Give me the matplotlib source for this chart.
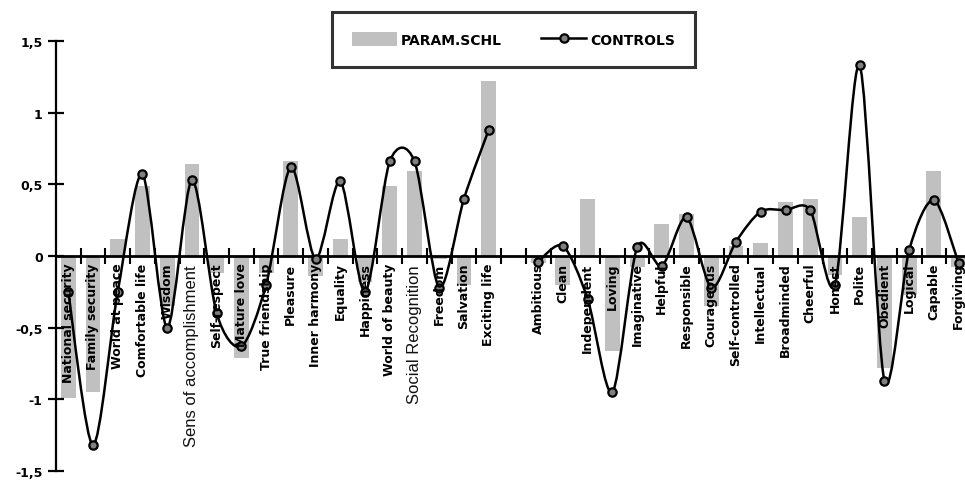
import numpy as np
import matplotlib
matplotlib.use("Agg")
import matplotlib.pyplot as plt
from matplotlib.path import Path
from matplotlib.patches import PathPatch, Patch
from matplotlib.lines import Line2D

# ---------------- data ----------------
categories = [
    "National security", "Family security", "World at peace", "Comfortable life",
    "Wisdom", "Sens of accomplishment", "Self-respect", "Mature love",
    "True friendship", "Pleasure", "Inner harmony", "Equality", "Happiness",
    "World of beauty", "Social Recognition", "Freedom", "Salvation",
    "Exciting life", "",
    "Ambitious", "Clean", "Independent", "Loving", "Imaginative", "Helpful",
    "Responsible", "Courageous", "Self-controlled", "Intellectual",
    "Broadminded", "Cheerful", "Honest", "Polite", "Obedient", "Logical",
    "Capable", "Forgiving",
]
readable_labels = ["Sens of accomplishment", "Social Recognition"]

param_schl = [
    -0.99, -0.95, 0.12, 0.49, -0.35, 0.64, -0.12, -0.71, -0.12, 0.66,
    -0.14, 0.12, -0.18, 0.49, 0.59, -0.02, -0.20, 1.22, np.nan,
    -0.05, -0.20, 0.40, -0.66, -0.08, 0.22, 0.29, -0.35, 0.07, 0.09,
    0.38, 0.40, -0.13, 0.27, -0.78, -0.27, 0.59, -0.08,
]
controls = [
    -0.25, -1.32, -0.25, 0.57, -0.50, 0.53, -0.40, -0.63, -0.20, 0.62,
    -0.02, 0.52, -0.25, 0.66, 0.66, -0.22, 0.40, 0.88, np.nan,
    -0.04, 0.07, -0.30, -0.95, 0.06, -0.07, 0.27, -0.22, 0.10, 0.31,
    0.32, 0.32, -0.20, 1.33, -0.87, 0.04, 0.39, -0.05,
]
yticks = [-1.5, -1, -0.5, 0, 0.5, 1, 1.5]
ytick_labels = ["-1,5", "-1", "-0,5", "0", "0,5", "1", "1,5"]
series_names = ["PARAM.SCHL", "CONTROLS"]

# ---------------- figure ----------------
W, H = 965, 481
fig = plt.figure(figsize=(W / 100, H / 100), dpi=100)
x0_px, x1_px = 55.9, 971.0
ytop_px, ybot_px = 42.0, 472.0
ax = fig.add_axes([x0_px / W, 1 - ybot_px / H, (x1_px - x0_px) / W, (ybot_px - ytop_px) / H])

n = len(categories)
x = np.arange(1, n + 1)
bar_color = "#c0c0c0"

ax.bar(x, param_schl, width=0.6, color=bar_color, edgecolor="none", zorder=1)

# smoothed line (Catmull-Rom / Excel-like), broken at gaps
def smooth_segments(xs, ys):
    segs, cur = [], []
    for xi, yi in zip(xs, ys):
        if np.isnan(yi):
            if cur:
                segs.append(cur)
            cur = []
        else:
            cur.append((xi, yi))
    if cur:
        segs.append(cur)
    return segs

f = 1.0 / 7.0
for seg in smooth_segments(x, np.array(controls, dtype=float)):
    pts = np.array(seg, dtype=float)
    verts = [tuple(pts[0])]
    codes = [Path.MOVETO]
    m = len(pts)
    for i in range(m - 1):
        p0 = pts[i - 1] if i > 0 else pts[i]
        p1 = pts[i]
        p2 = pts[i + 1]
        p3 = pts[i + 2] if i + 2 < m else pts[i + 1]
        c1 = p1 + (p2 - p0) * f
        c2 = p2 - (p3 - p1) * f
        verts += [tuple(c1), tuple(c2), tuple(p2)]
        codes += [Path.CURVE4] * 3
    ax.add_patch(PathPatch(Path(verts, codes), facecolor="none", edgecolor="black",
                           lw=1.8, zorder=3, transform=ax.transData))

ax.plot(x, controls, linestyle="none", marker="o", markersize=6,
        markerfacecolor="#808080", markeredgecolor="black", markeredgewidth=1.6, zorder=4)

# axes styling
ax.set_xlim(0.5, n + 0.5)
ax.set_ylim(-1.5, 1.5)
for s in ["top", "right"]:
    ax.spines[s].set_visible(False)
ax.spines["bottom"].set_position(("data", 0))
ax.spines["bottom"].set_linewidth(2.0)
ax.spines["left"].set_linewidth(1.6)
ax.set_xticks(np.arange(1.5, n + 0.5, 1.0))
ax.set_xticklabels([])
ax.tick_params(axis="x", direction="inout", length=11, width=1.5, color="black")
ax.set_yticks(yticks)
ax.set_yticklabels(ytick_labels, fontsize=9, fontweight="bold")
ax.tick_params(axis="y", direction="inout", length=11, width=1.6, pad=4)
ax.patch.set_alpha(0)

# category labels
for xi, lab in zip(x, categories):
    if not lab:
        continue
    if lab in readable_labels:
        ax.text(xi, -0.055, lab, rotation=90, ha="center", va="top", fontsize=12,
                family="Liberation Sans", color="#111111", zorder=5)
    else:
        ax.text(xi, -0.045, lab, rotation=90, ha="center", va="top", fontsize=9,
                fontweight="bold", color="black", zorder=5)

# legend
handles = [
    Patch(facecolor=bar_color, edgecolor="none"),
    Line2D([0], [0], color="black", lw=1.8, marker="o", markersize=6,
           markerfacecolor="#808080", markeredgecolor="black", markeredgewidth=1.6),
]
leg = fig.legend(handles, series_names, loc="center",
                 bbox_to_anchor=(513.5 / W, 1 - 40.5 / H), ncol=2, frameon=True,
                 fancybox=False, shadow=False, prop={"weight": "bold", "size": 10},
                 handlelength=3.25, handleheight=1.2, handletextpad=0.3,
                 columnspacing=2.8, borderpad=1.45)
leg.get_frame().set_edgecolor("black")
leg.get_frame().set_linewidth(2.2)
leg.get_frame().set_facecolor("white")

fig.savefig("out.png", dpi=100)
